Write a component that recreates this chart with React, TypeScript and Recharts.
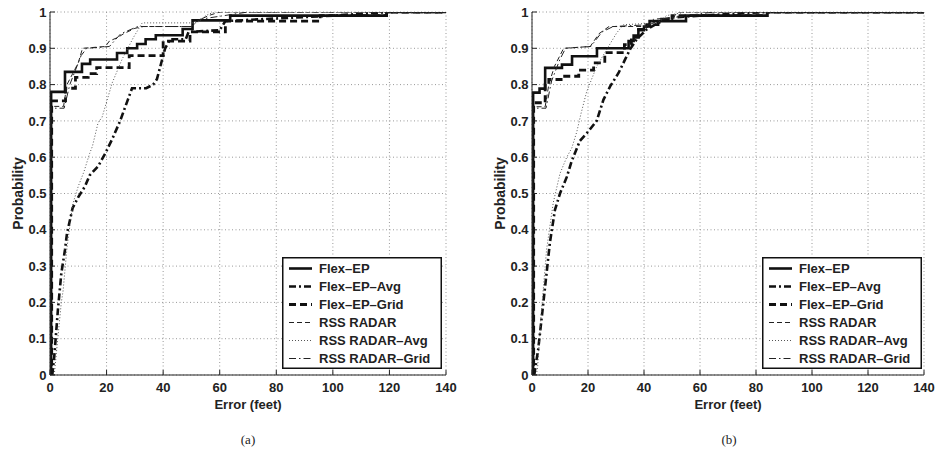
import React from 'react';
import { LineChart, Line, XAxis, YAxis, CartesianGrid, Legend } from 'recharts';

type Pt = [number, number];

const xTicks = [0, 20, 40, 60, 80, 100, 120, 140];
const yTicks = [0, 0.1, 0.2, 0.3, 0.4, 0.5, 0.6, 0.7, 0.8, 0.9, 1];
const seriesNames = ['Flex–EP', 'Flex–EP–Avg', 'Flex–EP–Grid', 'RSS RADAR', 'RSS RADAR–Avg', 'RSS RADAR–Grid'];

// panel (a): [error in feet, cumulative probability]
const aFlexEp: Pt[] = [[0, 0], [0.4, 0.78], [5.3, 0.835], [11.3, 0.857], [14.2, 0.869], [23.7, 0.887], [27.3, 0.9], [30.8, 0.912], [33.8, 0.925], [37.4, 0.936], [46.9, 0.953], [50.4, 0.977], [63.7, 0.99], [119, 1], [140, 1]];
const aFlexEpAvg: Pt[] = [[0.8, 0], [1.5, 0.05], [2.8, 0.18], [4, 0.28], [5.3, 0.345], [6, 0.39], [8, 0.46], [10, 0.49], [12.4, 0.52], [14, 0.55], [17, 0.575], [19.5, 0.61], [22, 0.65], [24.8, 0.7], [27.6, 0.76], [29, 0.79], [34, 0.79], [36.5, 0.8], [37.8, 0.815], [39, 0.85], [40.7, 0.9], [42.5, 0.925], [48, 0.925], [49, 0.945], [60, 0.95], [62, 0.975], [100, 0.99], [120, 1], [140, 1]];
const aFlexEpGrid: Pt[] = [[0, 0], [0.6, 0.755], [5.5, 0.79], [9, 0.82], [13.5, 0.83], [16.5, 0.847], [28, 0.88], [40, 0.92], [49.5, 0.945], [62, 0.975], [95.5, 0.99], [119, 1], [140, 1]];
const aRssRadar: Pt[] = [[0, 0], [0.3, 0.74], [4.8, 0.74], [6, 0.8], [8, 0.83], [10, 0.86], [11.5, 0.9], [19.6, 0.905], [21, 0.92], [24, 0.93], [26, 0.94], [30, 0.955], [33, 0.96], [50, 0.96], [52, 0.975], [56, 0.99], [60, 1], [140, 1]];
const aRssRadarAvg: Pt[] = [[1.5, 0], [2.5, 0.08], [4, 0.2], [4.6, 0.23], [6, 0.35], [8, 0.47], [10, 0.52], [12, 0.56], [14, 0.61], [15, 0.63], [17, 0.695], [18.4, 0.71], [22, 0.805], [25.5, 0.87], [29.5, 0.93], [32.6, 0.97], [52, 0.97], [55, 0.99], [58, 1], [140, 1]];
const aRssRadarGrid: Pt[] = [[0, 0], [0.3, 0.735], [5, 0.735], [7, 0.8], [9, 0.84], [11, 0.88], [13, 0.9], [21, 0.905], [25, 0.94], [31, 0.96], [50, 0.96], [53, 0.98], [70, 1], [140, 1]];

// panel (b)
const bFlexEp: Pt[] = [[0, 0], [0.4, 0.778], [2.7, 0.789], [4.7, 0.846], [10.7, 0.855], [14.3, 0.878], [23.2, 0.9], [34.5, 0.92], [36.3, 0.935], [38, 0.952], [40, 0.96], [42, 0.975], [55, 0.99], [84, 1], [140, 1]];
const bFlexEpAvg: Pt[] = [[0.8, 0], [1, 0.01], [2.2, 0.07], [3.5, 0.16], [5.2, 0.28], [6.4, 0.365], [8.2, 0.455], [10, 0.5], [12.4, 0.545], [14.2, 0.59], [17.1, 0.645], [20, 0.67], [23.1, 0.7], [25.5, 0.758], [27.9, 0.795], [30.9, 0.832], [33.3, 0.87], [35, 0.897], [37.4, 0.925], [41, 0.952], [45, 0.97], [50, 0.985], [60, 0.99], [84, 1], [140, 1]];
const bFlexEpGrid: Pt[] = [[0, 0], [0.6, 0.75], [4.7, 0.8], [6, 0.814], [11, 0.823], [16.7, 0.84], [22, 0.86], [26, 0.888], [33, 0.91], [35.5, 0.93], [38, 0.95], [41, 0.965], [45, 0.98], [50, 0.99], [84, 1], [140, 1]];
const bRssRadar: Pt[] = [[0, 0], [0.3, 0.739], [4.7, 0.739], [6, 0.8], [8, 0.85], [11.3, 0.9], [20.8, 0.905], [23.9, 0.94], [27.5, 0.96], [41, 0.96], [43.4, 0.98], [50.5, 0.985], [52, 1], [140, 1]];
const bRssRadarAvg: Pt[] = [[1.5, 0], [2, 0.02], [3.2, 0.16], [5.2, 0.345], [7.6, 0.475], [10, 0.555], [12.4, 0.6], [14.2, 0.625], [16, 0.67], [17.5, 0.72], [19.5, 0.78], [23.1, 0.85], [26.7, 0.897], [30.3, 0.943], [32.7, 0.965], [45, 0.97], [48, 0.99], [55, 1], [140, 1]];
const bRssRadarGrid: Pt[] = [[0, 0], [0.3, 0.735], [5, 0.735], [7, 0.81], [10, 0.87], [12, 0.9], [21, 0.905], [25, 0.945], [29, 0.96], [42, 0.965], [46, 0.98], [60, 0.995], [65, 1], [140, 1]];

const lineStyles = [
  { width: 2.6, dash: undefined, color: '#111', step: true },
  { width: 2.6, dash: '7 3 2 3', color: '#111', step: false },
  { width: 2.8, dash: '7 4', color: '#111', step: true },
  { width: 1, dash: '5 3', color: '#222', step: false },
  { width: 1, dash: '1 2', color: '#555', step: false },
  { width: 1, dash: '7 3 1.5 3', color: '#222', step: false },
];

const sans = '"Liberation Sans", Arial, sans-serif';

const XTick = (props: any) => {
  const { x, y, payload } = props;
  return (
    <g>
      <line x1={x} x2={x} y1={y} y2={y - 5} stroke="#222" />
      <text x={x} y={y + 16.5} textAnchor="middle" fontFamily={sans} fontWeight="bold" fontSize={13} fill="#222">
        {payload.value}
      </text>
    </g>
  );
};

const YTick = (props: any) => {
  const { x, y, payload } = props;
  return (
    <g>
      <line x1={x} x2={x + 5} y1={y} y2={y} stroke="#222" />
      <text x={x - 3.5} y={y + 4.6} textAnchor="end" fontFamily={sans} fontWeight="bold" fontSize={13} fill="#222">
        {payload.value}
      </text>
    </g>
  );
};

const XLabel = (props: any) => {
  const vb = props.viewBox;
  return (
    <text x={vb.x + vb.width / 2} y={vb.y + 33.5} textAnchor="middle" fontFamily={sans} fontWeight="bold" fontSize={13} fill="#222">
      Error (feet)
    </text>
  );
};

const YLabel = (props: any) => {
  const vb = props.viewBox;
  const cx = vb.x + 3;
  const cy = vb.y + vb.height / 2;
  return (
    <text x={cx} y={cy} transform={`rotate(-90 ${cx} ${cy})`} textAnchor="middle" fontFamily={sans} fontWeight="bold" fontSize={14} fill="#222">
      Probability
    </text>
  );
};

const LegendBox = () => (
  <svg width={160} height={112} style={{ display: 'block' }}>
    <rect x={0.75} y={0.75} width={158.5} height={110.5} fill="#fff" stroke="#111" strokeWidth={1.5} />
    {seriesNames.map((name, i) => {
      const y = 11.5 + 18 * i;
      const st = lineStyles[i];
      return (
        <g key={name}>
          <line x1={7} x2={30} y1={y} y2={y} stroke={st.color} strokeWidth={st.width} strokeDasharray={st.dash} />
          <text x={37} y={y + 4.6} fontFamily={sans} fontWeight="bold" fontSize={13} fill="#222">
            {name}
          </text>
        </g>
      );
    })}
  </svg>
);

const Panel = ({ series, width, marginLeft, legendLeft }: { series: Pt[][]; width: number; marginLeft: number; legendLeft: number }) => {
  const datasets = series.map((s) => s.map(([x, p]) => ({ x, p })));
  return (
    <LineChart width={width} height={458} margin={{ top: 12, right: 14, bottom: 53, left: marginLeft }}>
      <CartesianGrid stroke="#999" strokeDasharray="1 2.5" />
      <XAxis
        type="number"
        dataKey="x"
        domain={[0, 140]}
        ticks={xTicks}
        interval={0}
        allowDataOverflow
        height={30}
        tickSize={0}
        tickMargin={0}
        tickLine={false}
        tick={<XTick />}
        stroke="#222"
        label={XLabel}
      />
      <YAxis
        type="number"
        domain={[0, 1]}
        ticks={yTicks}
        interval={0}
        allowDataOverflow
        width={30}
        tickSize={0}
        tickMargin={0}
        tickLine={false}
        tick={<YTick />}
        stroke="#222"
        label={YLabel}
      />
      {datasets.map((d, i) => (
        <Line
          key={seriesNames[i]}
          data={d}
          dataKey="p"
          name={seriesNames[i]}
          type={lineStyles[i].step ? 'stepAfter' : 'linear'}
          stroke={lineStyles[i].color}
          strokeWidth={lineStyles[i].width}
          strokeDasharray={lineStyles[i].dash}
          dot={false}
          activeDot={false}
          isAnimationActive={false}
        />
      ))}
      <Legend
        layout="vertical"
        align="center"
        verticalAlign="middle"
        wrapperStyle={{ left: legendLeft, top: 257, width: 160, height: 112 }}
        content={() => <LegendBox />}
      />
    </LineChart>
  );
};

const captionStyle: React.CSSProperties = {
  position: 'absolute',
  top: 432,
  width: 40,
  textAlign: 'center',
  fontFamily: '"Liberation Serif", "Times New Roman", serif',
  fontSize: 13,
  color: '#222',
};

const App = () => (
  <div style={{ position: 'absolute', left: 0, top: 0, width: 938, height: 458, background: '#fff' }}>
    <div style={{ position: 'absolute', left: 0, top: 0 }}>
      <Panel
        series={[aFlexEp, aFlexEpAvg, aFlexEpGrid, aRssRadar, aRssRadarAvg, aRssRadarGrid]}
        width={460}
        marginLeft={20}
        legendLeft={282}
      />
    </div>
    <div style={{ position: 'absolute', left: 470, top: 0 }}>
      <Panel
        series={[bFlexEp, bFlexEpAvg, bFlexEpGrid, bRssRadar, bRssRadarAvg, bRssRadarGrid]}
        width={468}
        marginLeft={32}
        legendLeft={292}
      />
    </div>
    <div style={{ ...captionStyle, left: 228 }}>(a)</div>
    <div style={{ ...captionStyle, left: 709 }}>(b)</div>
  </div>
);

export default App;
